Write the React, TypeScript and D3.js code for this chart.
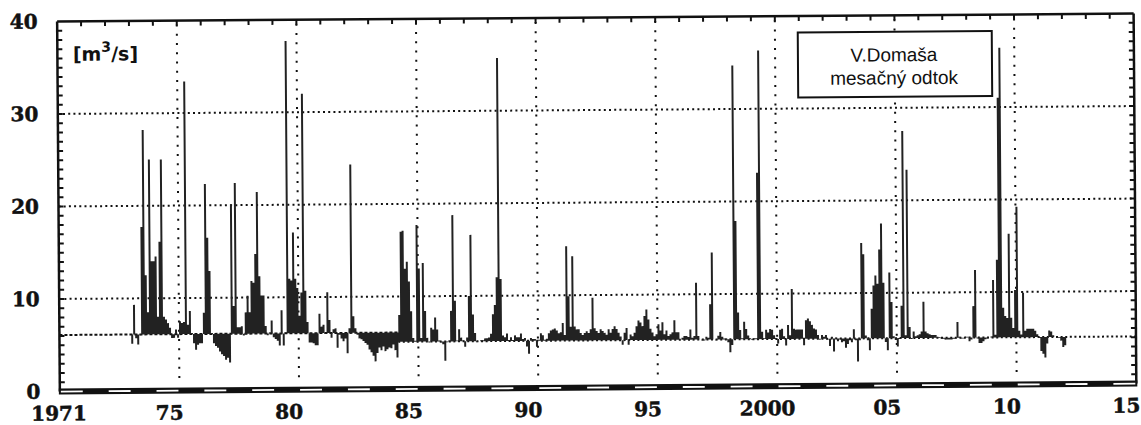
import React from 'react';
import * as d3 from 'd3';

// monthly outflow below V.Domaša [m3/s], first value = Jan 1973
const startYear = 1973;

const flow1970s = [
  5.1, 9.3, 5.7, 5.0, 6.0, 17.7, 28.2, 12.5, 8.5, 25.0, 14.0, 14.0,
  14.5, 8.0, 16.1, 25.0, 8.0, 7.7, 7.3, 6.8, 5.7, 5.7, 6.6, 5.7,
  7.5, 7.3, 7.4, 33.4, 7.1, 8.6, 6.2, 5.1, 4.4, 4.95, 5.1, 5.1,
  8.4, 22.3, 16.5, 12.9, 6.2, 5.1, 4.8, 4.6, 4.2, 3.9, 3.7, 3.3,
  3.5, 3.0, 20.1, 9.1, 22.4, 6.8, 6.8, 6.9, 5.9, 8.4, 10.2, 8.4,
  11.8, 11.6, 14.7, 21.4, 12.3, 10.2, 10.2, 6.9, 5.9, 6.2, 7.5, 5.7,
  5.5, 5.3, 4.8, 8.6, 4.8, 6.2, 37.7, 12.0, 11.8, 17.0, 12.0, 11.0,
];
const flow1980s = [
  8.0, 10.5, 32.0, 10.7, 7.3, 5.1, 5.1, 5.0, 4.8, 4.8, 8.2, 6.8,
  7.0, 6.0, 10.5, 7.5, 5.6, 6.5, 6.6, 4.5, 5.9, 5.5, 5.2, 5.5,
  3.9, 6.6, 24.3, 7.9, 6.6, 5.9, 5.5, 5.4, 5.2, 5.0, 4.8, 4.3,
  4.0, 3.6, 3.0, 3.9, 4.5, 4.2, 4.6, 4.1, 4.3, 4.5, 4.4, 4.8,
  4.2, 3.4, 8.0, 17.0, 17.1, 13.0, 13.75, 11.6, 8.4, 5.5, 5.2, 17.7,
  13.0, 5.5, 13.6, 8.4, 5.5, 5.0, 6.6, 6.4, 7.7, 6.4, 5.2, 5.0,
  4.8, 3.0, 5.0, 5.2, 8.4, 18.75, 9.5, 5.2, 6.4, 5.5, 5.2, 4.5,
  5.5, 10.0, 16.6, 8.0, 6.0, 5.0, 5.1, 5.2, 5.2, 5.4, 5.4, 5.5,
  5.9, 8.0, 9.0, 12.0, 35.7, 11.8, 5.7, 5.5, 5.9, 5.2, 5.5, 5.2,
  5.7, 5.5, 5.5, 5.9, 5.3, 5.4, 4.5, 3.7, 5.4, 5.3, 5.3, 4.45,
];
const flow1990s = [
  5.2, 5.9, 5.7, 5.2, 5.3, 5.9, 6.2, 6.3, 6.4, 6.2, 5.9, 6.0,
  7.0, 5.7, 15.3, 9.9, 6.6, 14.2, 6.6, 6.3, 6.3, 5.9, 5.7, 5.9,
  6.1, 5.9, 6.3, 9.7, 6.4, 6.1, 5.9, 6.3, 6.1, 5.9, 5.7, 6.3,
  5.9, 6.3, 6.6, 6.3, 5.9, 5.5, 4.6, 5.9, 6.4, 4.6, 5.7, 5.5,
  5.9, 6.6, 7.2, 7.0, 6.6, 7.7, 8.4, 7.3, 6.3, 5.9, 5.5, 5.7,
  6.8, 6.1, 7.0, 5.7, 6.1, 5.5, 5.7, 5.9, 7.2, 5.9, 5.9, 5.1,
  5.3, 5.5, 5.5, 5.4, 6.2, 5.3, 5.5, 11.25, 5.5, 5.1, 5.0, 5.0,
  5.4, 5.3, 8.9, 14.5, 5.1, 5.0, 5.5, 5.9, 5.4, 5.2, 5.2, 4.8,
  3.7, 4.5, 34.7, 17.9, 8.0, 6.1, 5.2, 7.0, 6.2, 5.5, 5.2, 5.0,
  5.2, 5.2, 23.1, 36.3, 5.9, 5.2, 6.1, 5.8, 6.2, 6.1, 5.5, 5.2,
];
const flow2000s = [
  4.6, 6.1, 6.2, 5.4, 4.4, 6.6, 5.5, 10.5, 6.2, 6.1, 6.1, 6.1,
  6.1, 4.4, 7.1, 7.3, 7.0, 6.6, 6.2, 6.1, 5.5, 5.0, 5.5, 5.3,
  5.5, 5.0, 4.3, 5.3, 3.7, 5.2, 4.8, 5.0, 4.7, 4.8, 4.1, 4.5,
  4.9, 4.7, 6.1, 4.9, 2.6, 4.9, 15.4, 14.2, 5.4, 4.9, 3.8, 8.3,
  10.8, 11.9, 11.0, 14.7, 17.5, 11.1, 4.7, 3.8, 12.2, 9.0, 5.3, 4.9,
  4.2, 5.0, 8.6, 27.5, 5.4, 23.3, 6.3, 5.0, 5.8, 5.3, 5.4, 5.5,
  5.8, 9.0, 5.8, 5.6, 5.5, 5.4, 5.4, 5.4, 5.2, 5.2, 5.0, 5.0,
  4.9, 4.9, 4.9, 4.9, 5.0, 5.0, 6.8, 5.2, 5.0, 5.0, 5.2, 5.2,
  4.7, 4.9, 8.5, 12.4, 5.0, 4.5, 4.5, 4.7, 4.9, 5.0, 5.1, 5.2,
  11.3, 5.4, 13.5, 31.0, 36.4, 8.3, 7.4, 7.2, 16.3, 7.2, 6.1, 10.2,
];
const flow2010s = [
  19.2, 5.8, 5.4, 9.9, 5.8, 6.0, 6.0, 6.0, 6.0, 5.8, 5.4, 5.0,
  3.6, 3.3, 2.9, 4.4, 5.8, 5.7, 5.3, 5.1, 5.0, 5.0, 4.7, 4.0,
  4.2,
];

// reference outflow level the bars hang from
const refStart = [1970, 1984.16];
const refLevel = [6.1, 5.1];

const yLabels = [0, 10, 20, 30, 40];
const yGrid = [10, 20, 30];
const xTickYears = [1970, 1975, 1980, 1985, 1990, 1995, 2000, 2005, 2010, 2015];
const xTickLabels = ['1971', '75', '80', '85', '90', '95', '2000', '05', '10', '15'];
const legendLines = ['V.Domaša', 'mesačný odtok'];

export default function App() {
  const W = 1141;
  const H = 425;
  const x = d3.scaleLinear().domain([1970, 2015]).range([58.5, 1135]);
  const y = d3.scaleLinear().domain([0, 40]).range([387.5, 17.5]);

  const flow = [...flow1970s, ...flow1980s, ...flow1990s, ...flow2000s, ...flow2010s];
  const refAt = (t: number) => (t < refStart[1] ? refLevel[0] : refLevel[1]);
  const pts = flow.map((v, i) => ({ t: startYear + i / 12, v }));
  pts.push({ t: startYear + flow.length / 12, v: flow[flow.length - 1] });

  const area = d3
    .area<{ t: number; v: number }>()
    .x((d) => x(d.t))
    .y0((d) => y(refAt(d.t)))
    .y1((d) => y(d.v))
    .curve(d3.curveStepAfter);

  const x0 = x(1970);
  const x1 = x(2015);
  const yTop = y(40);
  const y0 = y(0);

  const years = d3.range(1971, 2015);
  const units = d3.range(1, 40);
  const evenYears = d3.range(1970, 2015, 2);
  const labelFont = {
    fontFamily: 'DejaVu Serif', fontWeight: 'bold', fontSize: 20,
    fill: '#111', stroke: '#111', strokeWidth: 0.5,
  };

  return (
    <svg width={W} height={H} style={{ position: 'absolute', left: 0, top: 0, background: '#fff' }}>
      <g transform="rotate(-0.42 597 205)">
        {/* horizontal dotted grid */}
        {yGrid.map((v) => (
          <line key={'hg' + v} x1={x0} x2={x1} y1={y(v)} y2={y(v)}
            stroke="#111" strokeWidth={2} strokeDasharray="2 3.2" />
        ))}
        {/* vertical dotted grid */}
        {xTickYears.slice(1, -1).map((t) => (
          <line key={'vg' + t} x1={x(t)} x2={x(t)} y1={yTop + 4} y2={y(1)}
            stroke="#111" strokeWidth={2} strokeDasharray="2 7.25" />
        ))}
        {/* reference level */}
        <line x1={x0} x2={x(refStart[1])} y1={y(refLevel[0])} y2={y(refLevel[0])}
          stroke="#111" strokeWidth={2} strokeDasharray="3 2" />
        <line x1={x(refStart[1])} x2={x1} y1={y(refLevel[1])} y2={y(refLevel[1])}
          stroke="#111" strokeWidth={2} strokeDasharray="2 2.6" />

        {/* monthly outflow */}
        <path d={area(pts) || ''} fill="#222" stroke="none" />

        {/* frame */}
        <line x1={x0} x2={x1} y1={yTop} y2={yTop} stroke="#111" strokeWidth={2.5} />
        <line x1={x0} x2={x0} y1={yTop} y2={y0} stroke="#111" strokeWidth={2.5} />
        <line x1={x1} x2={x1} y1={yTop} y2={y0} stroke="#111" strokeWidth={2.5} />
        {years.map((t) => (
          <line key={'tt' + t} x1={x(t)} x2={x(t)} y1={yTop} y2={yTop + 5} stroke="#111" strokeWidth={2} />
        ))}
        {units.map((v) => (
          <g key={'ut' + v}>
            <line x1={x0} x2={x0 + 5} y1={y(v)} y2={y(v)} stroke="#111" strokeWidth={2} />
            <line x1={x1 - 5} x2={x1} y1={y(v)} y2={y(v)} stroke="#111" strokeWidth={2} />
          </g>
        ))}
        {/* bottom year ruler */}
        <rect x={x0 - 1} y={y0 - 3} width={x1 - x0 + 2} height={6} fill="#111" />
        {evenYears.map((t) => (
          <rect key={'yr' + t} x={x(t) + 1} y={y0 - 0.8} width={x(t + 1) - x(t) - 2} height={1.8} fill="#fff" />
        ))}

        {/* y labels */}
        {yLabels.map((v) => (
          <text key={'yl' + v} x={39} y={y(v) + 7} textAnchor="end" {...labelFont}>
            {v}
          </text>
        ))}
        {/* x labels */}
        {xTickYears.map((t, i) => (
          <text key={'xl' + t} x={x(t) + (i === 0 ? -1 : -10)} y={416.5} textAnchor="middle" {...labelFont}>
            {xTickLabels[i]}
          </text>
        ))}

        {/* unit */}
        <text x={74} y={57} fontFamily="DejaVu Sans" fontWeight="bold" fontSize={19} fill="#111">
          [m<tspan dy={-9} fontSize={14}>3</tspan><tspan dy={9}>/s]</tspan>
        </text>

        {/* legend */}
        <rect x={799} y={34} width={194} height={65} fill="#fff" stroke="#111" strokeWidth={2} />
        {legendLines.map((s, i) => (
          <text key={s} x={895} y={63.5 + i * 23} textAnchor="middle"
            fontFamily="Liberation Sans" fontSize={19} fill="#111">
            {s}
          </text>
        ))}
      </g>
    </svg>
  );
}
